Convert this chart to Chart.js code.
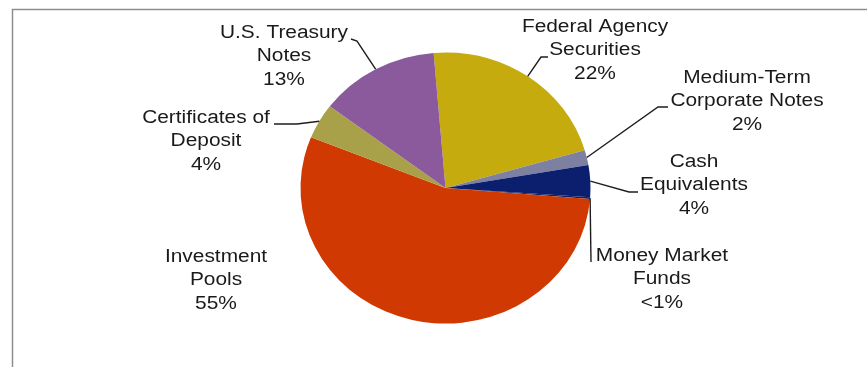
<!DOCTYPE html>
<html>
<head>
<meta charset="utf-8">
<title>Portfolio Composition</title>
<script src="https://cdn.jsdelivr.net/npm/chart.js"></script>
<style>
  html, body { margin: 0; padding: 0; background: #fff; }
  #wrap { width: 867px; height: 367px; }
</style>
</head>
<body>
<div id="wrap"><canvas id="portfolio" width="867" height="367"></canvas></div>
<script>
// holdings, clockwise from the top
const categories = ['Federal Agency Securities', 'Medium-Term Corporate Notes', 'Cash Equivalents',
  'Money Market Funds', 'Investment Pools', 'Certificates of Deposit', 'U.S. Treasury Notes'];
const shares = [21.8, 1.8, 3.8, 0.2, 54.8, 4.2, 13.4];
const labelText = [
  ['Federal Agency', 'Securities'],
  ['Medium-Term', 'Corporate Notes'],
  ['Cash', 'Equivalents'],
  ['Money Market', 'Funds'],
  ['Investment', 'Pools'],
  ['Certificates of', 'Deposit'],
  ['U.S. Treasury', 'Notes']
];
const sliceColors = ['#c6ab0f', '#7e80a2', '#0b1f6e', '#0d1f66', '#d03a02', '#a9a149', '#8a5a9c'];

// where each label sits (centre x, first line y) and its leader line after the slice edge
const labelSpots = [
  { x: 595, y: 27, leader: [[541, 57], [548, 57]] },
  { x: 747, y: 78, leader: [[658, 107], [668, 107]] },
  { x: 694, y: 162, leader: [[629, 192], [638, 192]] },
  { x: 662, y: 256, leader: [[591, 262]] },
  { x: 216, y: 257, leader: null },
  { x: 206, y: 118, leader: [[297, 124], [274, 124]] },
  { x: 284, y: 33, leader: [[357, 41], [351, 39]] }
];

const tilt = 0.935;      // pie is seen slightly from above
const lineGap = 23.4;
const stretch = 1.16;    // labels are a little wider than plain Arial

function pctText(v) {
  const total = shares.reduce((a, b) => a + b, 0);
  const p = v / total * 100;
  return p < 1 ? '<1%' : Math.round(p) + '%';
}

const frame = {
  id: 'frame',
  beforeDraw(chart) {
    const ctx = chart.ctx;
    ctx.save();
    ctx.strokeStyle = '#8e8e8e';
    ctx.lineWidth = 1.5;
    ctx.beginPath();
    ctx.moveTo(12.5, 367);
    ctx.lineTo(12.5, 9.5);
    ctx.lineTo(867, 9.5);
    ctx.stroke();
    ctx.restore();
  }
};

const tiltAndLabels = {
  id: 'tiltAndLabels',
  beforeDatasetsDraw(chart) {
    const arc = chart.getDatasetMeta(0).data[0];
    const ctx = chart.ctx;
    ctx.save();
    ctx.translate(arc.x, arc.y);
    ctx.scale(1, tilt);
    ctx.translate(-arc.x, -arc.y);
  },
  afterDatasetsDraw(chart) {
    const ctx = chart.ctx;
    ctx.restore();
    const arcs = chart.getDatasetMeta(0).data;
    ctx.save();
    ctx.strokeStyle = '#1e1e1e';
    ctx.lineWidth = 1.4;
    ctx.fillStyle = '#1a1a1a';
    ctx.font = '18px "Liberation Sans", Arial, sans-serif';
    ctx.textAlign = 'center';
    ctx.textBaseline = 'middle';
    arcs.forEach((arc, i) => {
      const spot = labelSpots[i];
      if (spot.leader) {
        const mid = (arc.startAngle + arc.endAngle) / 2;
        ctx.beginPath();
        ctx.moveTo(arc.x + Math.cos(mid) * arc.outerRadius, arc.y + Math.sin(mid) * arc.outerRadius * tilt);
        spot.leader.forEach(p => ctx.lineTo(p[0], p[1]));
        ctx.stroke();
      }
      const lines = labelText[i].concat([pctText(shares[i])]);
      lines.forEach((t, k) => {
        ctx.save();
        ctx.translate(spot.x, spot.y + k * lineGap);
        ctx.scale(stretch, 1);
        ctx.fillText(t, 0, 0);
        ctx.restore();
      });
    });
    ctx.restore();
  }
};

new Chart(document.getElementById('portfolio'), {
  type: 'pie',
  data: {
    labels: categories,
    datasets: [{
      data: shares,
      backgroundColor: sliceColors,
      borderWidth: 0
    }]
  },
  options: {
    responsive: false,
    animation: false,
    devicePixelRatio: 1,
    rotation: -4.7,
    layout: { padding: { top: 43, bottom: 34, left: 300, right: 276 } },
    plugins: {
      legend: { display: false },
      tooltip: { enabled: false }
    }
  },
  plugins: [frame, tiltAndLabels]
});
</script>
</body>
</html>
